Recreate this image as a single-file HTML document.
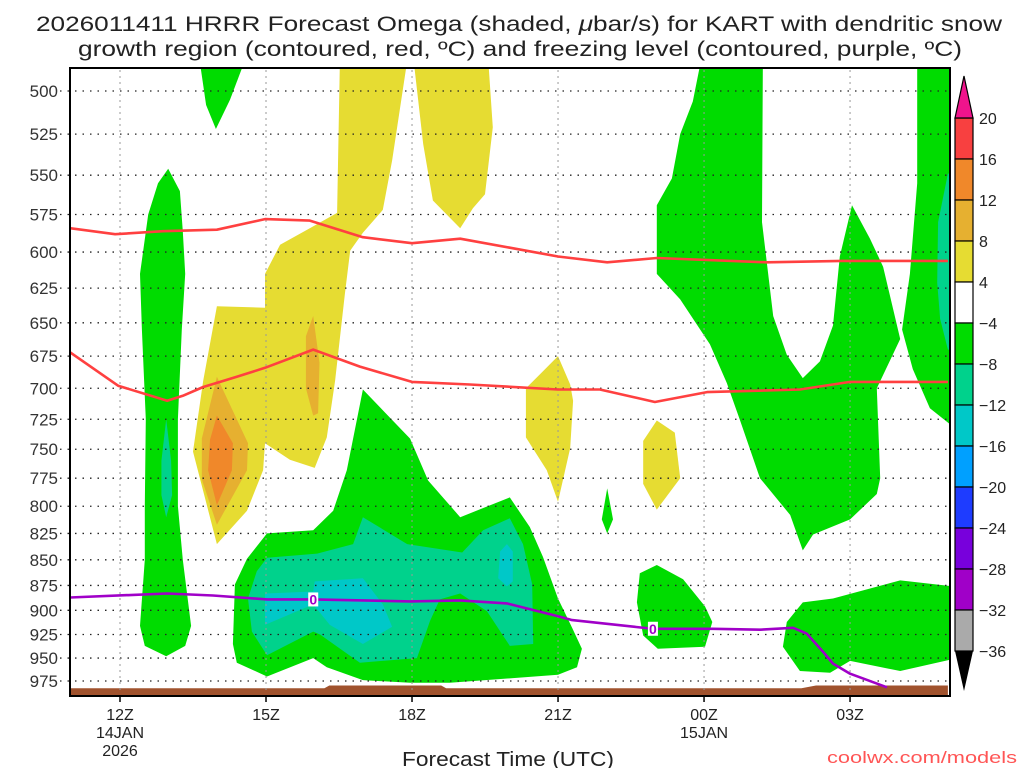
<!DOCTYPE html>
<html><head><meta charset="utf-8">
<style>
html,body{margin:0;padding:0;background:#fff;}
svg{display:block;font-family:"Liberation Sans",sans-serif;}
</style></head>
<body>
<svg id="chart" width="1024" height="768" viewBox="0 0 1024 768" xmlns="http://www.w3.org/2000/svg">
<rect x="0" y="0" width="1024" height="768" fill="#fff"/>
<text x="519" y="31" font-size="21" fill="#222" text-anchor="middle" textLength="966" lengthAdjust="spacingAndGlyphs">2026011411 HRRR Forecast Omega (shaded, <tspan font-style="italic">μ</tspan>bar/s) for KART with dendritic snow</text>
<text x="520" y="56" font-size="21" fill="#222" text-anchor="middle" textLength="884" lengthAdjust="spacingAndGlyphs">growth region (contoured, red, ºC) and freezing level (contoured, purple, ºC)</text>
<defs><clipPath id="plotclip"><rect x="70" y="68" width="880" height="628"/></clipPath></defs>
<g id="fills" clip-path="url(#plotclip)"></g>
<g id="grid"></g>
<g id="lines" clip-path="url(#plotclip)"></g>
<g id="axes"></g>
<g id="cbar"></g>
<text x="508" y="766" font-size="20" fill="#222" text-anchor="middle" textLength="212" lengthAdjust="spacingAndGlyphs">Forecast Time (UTC)</text>
<text x="1017" y="763" font-size="17" fill="#f55" text-anchor="end" textLength="190" lengthAdjust="spacingAndGlyphs">coolwx.com/models</text>
</svg>
<script>
// ---- data (hours after 12Z 14 Jan, pressure hPa) ----
const pressureLevels = [500,525,550,575,600,625,650,675,700,725,750,775,800,825,850,875,900,925,950,975];
const timeTickHours = [0,3,6,9,12,15];
const timeTickLabels = [["12Z","14JAN","2026"],["15Z"],["18Z"],["21Z"],["00Z","15JAN"],["03Z"]];
const cbarLevels = [20,16,12,8,4,-4,-8,-12,-16,-20,-24,-28,-32,-36];
const cbarColors = ["#f84040","#f0882a","#e6b030","#e6dc32","#ffffff","#00dc00","#00d28c","#00c8c8","#00a0ff","#1e3cff","#7800dc","#a000c8","#aaaaaa"];

const yellowBand = [[1.99,638],[2.98,639],[2.98,615],[3.29,595],[3.9,584],[4.46,574],[4.52,480],[5.92,480],[5.59,541],[5.4,572],[4.99,587],[4.73,599],[4.62,629],[4.42,694],[4.25,740],[4.0,766],[3.49,759],[2.98,745],[2.94,768],[2.61,804],[1.99,835],[1.5,752],[1.71,694]];
const yellowTop = [[6.02,480],[6.23,531],[6.43,566],[6.99,584],[7.25,571],[7.5,562],[7.66,521],[7.56,480]];
const yellowBlobA = [[9.0,675],[9.25,697],[9.31,710],[9.25,749],[9.0,796],[8.77,768],[8.34,740],[8.34,700],[8.63,689]];
const yellowBlobB = [[11.03,726],[11.4,736],[11.51,775],[11.03,803],[10.75,780],[10.75,743]];
const tanBlob = [[1.99,691],[2.63,745],[2.61,768],[1.99,817],[1.68,776],[1.68,741]];
const tanSliver = [[3.97,645],[4.1,680],[4.07,720],[3.97,722],[3.82,700],[3.82,660]];
const orangeBlob = [[1.99,722],[2.32,745],[2.3,768],[1.99,799],[1.81,768],[1.85,742]];
const greenTop = [[1.62,480],[2.61,480],[2.26,505],[1.97,522],[1.77,508]];
const greenBand = [[0.99,546],[1.23,560],[1.29,586],[1.34,615],[1.27,655],[1.19,725],[1.19,800],[1.29,850],[1.46,916],[1.34,937],[0.95,948],[0.51,937],[0.41,916],[0.51,850],[0.51,800],[0.53,725],[0.45,655],[0.41,615],[0.58,575],[0.78,555]];
const tealSliver = [[0.95,725],[1.05,760],[1.07,790],[0.95,810],[0.85,790],[0.85,760]];
const greenLow = [[4.99,701],[5.96,741],[6.33,777],[6.99,810],[8.01,792],[8.42,819],[8.69,847],[9.0,888],[9.29,918],[9.49,940],[9.39,960],[9.0,968],[6.78,977],[5.96,977],[4.99,974],[4.25,960],[3.97,950],[3.02,970],[2.4,955],[2.32,935],[2.36,874],[2.61,849],[3.02,825],[3.97,822],[4.38,804],[4.66,768]];
const tealLow = [[3.02,848],[4.05,844],[4.79,835],[4.99,810],[5.9,835],[7.03,843],[7.46,822],[8.01,811],[8.28,835],[8.47,874],[8.49,935],[8.01,937],[7.54,901],[6.99,883],[6.57,889],[6.37,911],[6.1,950],[4.93,955],[4.11,925],[3.97,922],[3.02,947],[2.71,922],[2.63,888],[2.81,861]];
const cyanLow = [[2.98,883],[3.97,881],[4.0,871],[4.99,868],[5.4,894],[5.59,917],[4.99,935],[4.31,915],[3.97,894],[2.98,915]];
const cyanSmall = [[7.95,835],[8.07,842],[8.07,871],[7.95,876],[7.77,868],[7.81,842]];
const greenSliver = [[10.01,784],[10.13,812],[10.01,825],[9.9,812]];
const greenBlobMid = [[11.03,855],[11.57,869],[12.02,896],[12.17,912],[12.02,938],[11.05,940],[10.75,926],[10.62,892],[10.68,863]];
const greenBlobRight = [[14.03,892],[14.65,888],[16.03,870],[17.3,877],[17.3,949],[16.03,964],[15.0,953],[14.59,966],[13.97,964],[13.62,938],[13.7,912]];
const greenU = [[11.96,480],[11.77,506],[11.51,525],[11.34,552],[11.03,569],[11.03,615],[11.51,633],[12.12,666],[12.47,696],[12.74,726],[13.15,775],[13.77,808],[14.03,841],[14.24,826],[15.0,812],[15.55,789],[15.62,775],[15.55,700],[16.03,662],[15.68,610],[15.41,591],[15.04,569],[14.79,603],[14.65,652],[14.38,679],[14.03,692],[13.7,674],[13.42,645],[13.19,580],[13.21,480]];
const greenRight = [[16.38,480],[17.3,480],[17.3,737],[16.64,716],[16.29,685],[16.07,655],[16.23,615],[16.38,555]];
const tealRight = [[17.3,549],[17.01,549],[16.81,580],[16.79,621],[16.85,647],[17.01,670],[17.3,670]];

const dgzUpperHours = [-1.03,-0.1,0.88,1.99,2.98,3.9,4.99,6.0,6.99,8.01,9.0,10.01,11.03,13.29,14.83,17.01];
const dgzUpperP = [584,588,586,585,578,579,590,594,591,597,603,607,604,607,606,606];
const dgzLowerHours = [-1.03,-0.04,0.97,1.29,1.71,2.4,2.98,3.97,4.93,6.0,7.19,9.0,9.86,10.99,12.06,13.97,15.0,17.01];
const dgzLowerP = [672,698,710,706,699,691,684,670,683,695,697,701,701,711,703,701,695,695];
const frzHours = [-1.03,0.97,1.91,3.02,3.97,5.96,6.99,7.95,9.0,9.29,10.95,12.18,13.15,13.83,14.11,14.44,14.65,15.0,15.76];
const frzP = [887,883,885,889,889,891,890,893,906,910,919,919,920,918,924,943,956,967,982];
const frzLabelHours = [3.97,10.95];
const frzLabelP = [889,919];
const sfcHours = [-1.03,4.2,4.3,6.6,6.7,14.0,14.3,17.01];
const sfcP = [983,983,980,980,983,983,980,980];

// ---- axis functions ----
const X0 = 120, PXH = 48.67, Y0 = 91, PYL = 883.5;
function xs(h){ return X0 + h*PXH; }
function ys(p){ return Y0 + PYL*Math.log(p/500); }
const NS = "http://www.w3.org/2000/svg";
function mk(tag, parent){ const e = document.createElementNS(NS, tag); parent.appendChild(e); return e; }
const fills = document.getElementById('fills');
const grid = document.getElementById('grid');
const lines = document.getElementById('lines');
const axes = document.getElementById('axes');
const cbar = document.getElementById('cbar');

function poly(pts, color, name){
  const e = mk('polygon', fills);
  e.setAttribute('points', pts.map(q => xs(q[0]).toFixed(1)+','+ys(q[1]).toFixed(1)).join(' '));
  e.setAttribute('fill', color);
  
  
}
poly(yellowBand, '#e6dc32', 'omega-positive-band');
poly(yellowTop, '#e6dc32', 'omega-positive-upper');
poly(yellowBlobA, '#e6dc32', 'omega-positive-blob-21z');
poly(yellowBlobB, '#e6dc32', 'omega-positive-blob-23z');
poly(tanBlob, '#e6b030', 'omega-8-12-blob');
poly(tanSliver, '#e6b030', 'omega-8-12-sliver');
poly(orangeBlob, '#f0882a', 'omega-12-16-core');
poly(greenTop, '#00dc00', 'omega-negative-top');
poly(greenBand, '#00dc00', 'omega-negative-band-13z');
poly(tealSliver, '#00d28c', 'omega-teal-sliver');
poly(greenLow, '#00dc00', 'omega-negative-lower');
poly(tealLow, '#00d28c', 'omega-teal-lower');
poly(cyanLow, '#00c8c8', 'omega-cyan-core');
poly(cyanSmall, '#00c8c8', 'omega-cyan-small');
poly(greenSliver, '#00dc00', 'omega-negative-sliver');
poly(greenBlobMid, '#00dc00', 'omega-negative-blob-23z');
poly(greenBlobRight, '#00dc00', 'omega-negative-blob-03z');
poly(greenU, '#00dc00', 'omega-negative-u-shape');
poly(greenRight, '#00dc00', 'omega-negative-right-edge');
poly(tealRight, '#00d28c', 'omega-teal-right-edge');

// terrain
(function(){
  const pts = sfcHours.map((h,i) => xs(h).toFixed(1)+','+ys(sfcP[i]).toFixed(1));
  pts.push(xs(sfcHours[sfcHours.length-1]).toFixed(1)+',696', xs(sfcHours[0]).toFixed(1)+',696');
  const e = mk('polygon', fills);
  e.setAttribute('points', pts.join(' '));
  e.setAttribute('fill', '#a0522d');
  
  
})();

// grid + y labels
pressureLevels.forEach(p => {
  const y = ys(p);
  const l = mk('line', grid);
  l.setAttribute('x1', 60); l.setAttribute('x2', 948);
  l.setAttribute('y1', y); l.setAttribute('y2', y);
  l.setAttribute('stroke', '#222'); l.setAttribute('stroke-width', '1.3');
  l.setAttribute('stroke-dasharray', '1.5 6');
  
  
  const t = mk('text', axes);
  t.setAttribute('x', 58); t.setAttribute('y', y + 6);
  t.setAttribute('font-size', '17'); t.setAttribute('fill', '#333');
  t.setAttribute('text-anchor', 'end');
  t.textContent = p;
  
  
});
timeTickHours.forEach((h,i) => {
  const x = xs(h);
  const l = mk('line', grid);
  l.setAttribute('x1', x); l.setAttribute('x2', x);
  l.setAttribute('y1', 70); l.setAttribute('y2', 694);
  l.setAttribute('stroke', '#999'); l.setAttribute('stroke-width', '1');
  l.setAttribute('stroke-dasharray', '2 4');
  
  
  const tk = mk('line', axes);
  tk.setAttribute('x1', x); tk.setAttribute('x2', x);
  tk.setAttribute('y1', 696); tk.setAttribute('y2', 702);
  tk.setAttribute('stroke', '#000'); tk.setAttribute('stroke-width', '1.5');
  
  
  timeTickLabels[i].forEach((s,j) => {
    const t = mk('text', axes);
    t.setAttribute('x', x); t.setAttribute('y', 720 + j*18);
    t.setAttribute('font-size', '16'); t.setAttribute('fill', '#222');
    t.setAttribute('text-anchor', 'middle');
    t.textContent = s;
    
    
  });
});

// contour lines
function line(hs, ps, color, name){
  const e = mk('polyline', lines);
  e.setAttribute('points', hs.map((h,i) => xs(h).toFixed(1)+','+ys(ps[i]).toFixed(1)).join(' '));
  e.setAttribute('fill', 'none'); e.setAttribute('stroke', color);
  e.setAttribute('stroke-width', '2.6'); e.setAttribute('stroke-linejoin', 'round');
  
  
}
line(dgzUpperHours, dgzUpperP, '#ff4040', 'dgz-upper-contour');
line(dgzLowerHours, dgzLowerP, '#ff4040', 'dgz-lower-contour');
line(frzHours, frzP, '#a000c8', 'freezing-level-contour');
frzLabelHours.forEach((h,i) => {
  const x = xs(h), y = ys(frzLabelP[i]);
  const b = mk('rect', lines);
  b.setAttribute('x', x-5); b.setAttribute('y', y-7); b.setAttribute('width', 10); b.setAttribute('height', 14);
  b.setAttribute('fill', '#fff');
  
  
  const t = mk('text', lines);
  t.setAttribute('x', x); t.setAttribute('y', y+5);
  t.setAttribute('font-size', '14'); t.setAttribute('font-weight', 'bold');
  t.setAttribute('fill', '#a000c8'); t.setAttribute('text-anchor', 'middle');
  t.textContent = '0';
  
  
});

// frame
(function(){
  const f = mk('rect', axes);
  f.setAttribute('x', 70); f.setAttribute('y', 68); f.setAttribute('width', 880); f.setAttribute('height', 628);
  f.setAttribute('fill', 'none'); f.setAttribute('stroke', '#000'); f.setAttribute('stroke-width', '2');
  
  
})();

// colorbar
(function(){
  const cx = 955, cw = 18, top = 118, ch = 41;
  cbarColors.forEach((c,i) => {
    const r = mk('rect', cbar);
    r.setAttribute('x', cx); r.setAttribute('y', top + i*ch);
    r.setAttribute('width', cw); r.setAttribute('height', ch);
    r.setAttribute('fill', c); r.setAttribute('stroke', '#000'); r.setAttribute('stroke-width', '1.2');
    
    
  });
  const bottom = top + cbarColors.length*ch;
  const t1 = mk('polygon', cbar);
  t1.setAttribute('points', `${cx},${top} ${cx+cw/2},76 ${cx+cw},${top}`);
  t1.setAttribute('fill', '#f0148c'); t1.setAttribute('stroke', '#000'); t1.setAttribute('stroke-width', '1.2');
  
  
  const t2 = mk('polygon', cbar);
  t2.setAttribute('points', `${cx},${bottom} ${cx+cw/2},691 ${cx+cw},${bottom}`);
  t2.setAttribute('fill', '#000');
  
  
  cbarLevels.forEach((v,i) => {
    const t = mk('text', cbar);
    t.setAttribute('x', 979); t.setAttribute('y', top + i*ch + 6);
    t.setAttribute('font-size', '16'); t.setAttribute('fill', '#222');
    t.textContent = v < 0 ? '\u2212' + Math.abs(v) : String(v);
    
    
  });
})();
</script>
</body></html>
